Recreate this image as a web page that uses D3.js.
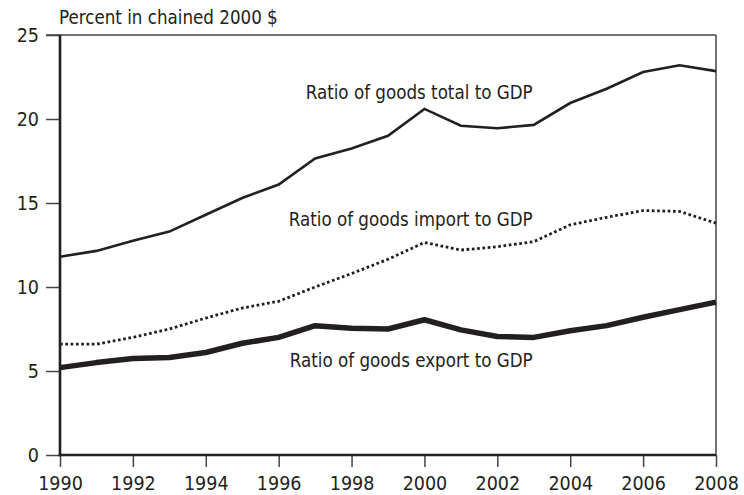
<!DOCTYPE html>
<html>
<head>
<meta charset="utf-8">
<script src="https://cdn.jsdelivr.net/npm/d3@7"></script>
<style>
  html, body { margin: 0; padding: 0; background: #fff; }
  svg text { font-family: "DejaVu Sans Condensed", "Liberation Sans Narrow", sans-serif; fill: #231f20; }
</style>
</head>
<body>
<svg id="chart" width="744" height="495"></svg>
<script>
const years = [1990,1991,1992,1993,1994,1995,1996,1997,1998,1999,2000,2001,2002,2003,2004,2005,2006,2007,2008];
const totalRatio  = [11.8, 12.15, 12.75, 13.3, 14.3, 15.3, 16.1, 17.65, 18.25, 19.0, 20.6, 19.6, 19.45, 19.65, 20.95, 21.8, 22.8, 23.2, 22.85];
const importRatio = [6.6, 6.6, 7.0, 7.5, 8.15, 8.75, 9.15, 10.0, 10.8, 11.65, 12.65, 12.2, 12.4, 12.7, 13.7, 14.15, 14.55, 14.5, 13.8];
const exportRatio = [5.2, 5.5, 5.75, 5.8, 6.1, 6.65, 7.0, 7.7, 7.55, 7.5, 8.05, 7.45, 7.05, 7.0, 7.4, 7.7, 8.2, 8.65, 9.1];
const yTicks = [0, 5, 10, 15, 20, 25];
const xTicks = [1990,1992,1994,1996,1998,2000,2002,2004,2006,2008];
const yTitle = "Percent in chained 2000 $";
const seriesLabels = ["Ratio of goods total to GDP", "Ratio of goods import to GDP", "Ratio of goods export to GDP"];

const ink = "#231f20";
const fontFam = '"DejaVu Sans Condensed", "Liberation Sans Narrow", sans-serif';
const fsTick = 19.5;
const fsText = 18.6;
const svg = d3.select("#chart");
const x = d3.scaleLinear().domain([1990, 2008]).range([60, 716]);
const y = d3.scaleLinear().domain([0, 25]).range([455, 35]);

// frame (top & right)
svg.append("line").attr("x1", 46).attr("x2", x(2008)).attr("y1", y(25)).attr("y2", y(25))
  .attr("stroke", "#444").attr("stroke-width", 1.5);
svg.append("line").attr("x1", x(2008)).attr("x2", x(2008)).attr("y1", y(25)).attr("y2", y(0))
  .attr("stroke", "#444").attr("stroke-width", 1.5);

// y axis
const yAxis = d3.axisLeft(y).tickValues(yTicks).tickSize(14).tickPadding(7).tickFormat(d3.format("d"));
const gy = svg.append("g").attr("transform", `translate(${x(1990)},0)`).call(yAxis);
gy.select(".domain").remove();
gy.selectAll(".tick line").attr("stroke", "#444").attr("stroke-width", 1.5);
gy.selectAll(".tick text").attr("font-size", fsTick).attr("fill", ink).style("font-family", fontFam);

// x axis
const xAxis = d3.axisBottom(x).tickValues(xTicks).tickSize(12).tickPadding(9).tickFormat(d3.format("d"));
const gx = svg.append("g").attr("transform", `translate(0,${y(0)})`).call(xAxis);
gx.select(".domain").remove();
gx.selectAll(".tick line").attr("stroke", "#444").attr("stroke-width", 1.5);
gx.selectAll(".tick text").attr("font-size", fsTick).attr("fill", ink).style("font-family", fontFam);

// thick axis lines
svg.append("line").attr("x1", x(1990)).attr("x2", x(1990)).attr("y1", y(25)).attr("y2", y(0) + 1.25)
  .attr("stroke", ink).attr("stroke-width", 2.6);
svg.append("line").attr("x1", x(1990) - 1.3).attr("x2", x(2008)).attr("y1", y(0)).attr("y2", y(0))
  .attr("stroke", ink).attr("stroke-width", 2.6);

const line = d3.line().x((d, i) => x(years[i])).y(d => y(d));

svg.append("path").datum(totalRatio).attr("d", line)
  .attr("fill", "none").attr("stroke", ink).attr("stroke-width", 2.6);
svg.append("path").datum(importRatio).attr("d", line)
  .attr("fill", "none").attr("stroke", ink).attr("stroke-width", 2.8)
  .attr("stroke-dasharray", "2.7,2.6");
svg.append("path").datum(exportRatio).attr("d", line)
  .attr("fill", "none").attr("stroke", ink).attr("stroke-width", 5.5)
  .attr("stroke-linejoin", "round");

// title
svg.append("text").attr("x", 59).attr("y", 24).attr("font-size", fsText).text(yTitle);

// series labels (right-aligned annotations)
const labelAnchorYear = 2002.97;
const labelValues = [21.2, 13.63, 5.24];
svg.selectAll("text.series").data(seriesLabels).enter().append("text")
  .attr("class", "series")
  .attr("x", x(labelAnchorYear)).attr("y", (d, i) => y(labelValues[i]))
  .attr("text-anchor", "end").attr("font-size", fsText)
  .text(d => d);
</script>
</body>
</html>
